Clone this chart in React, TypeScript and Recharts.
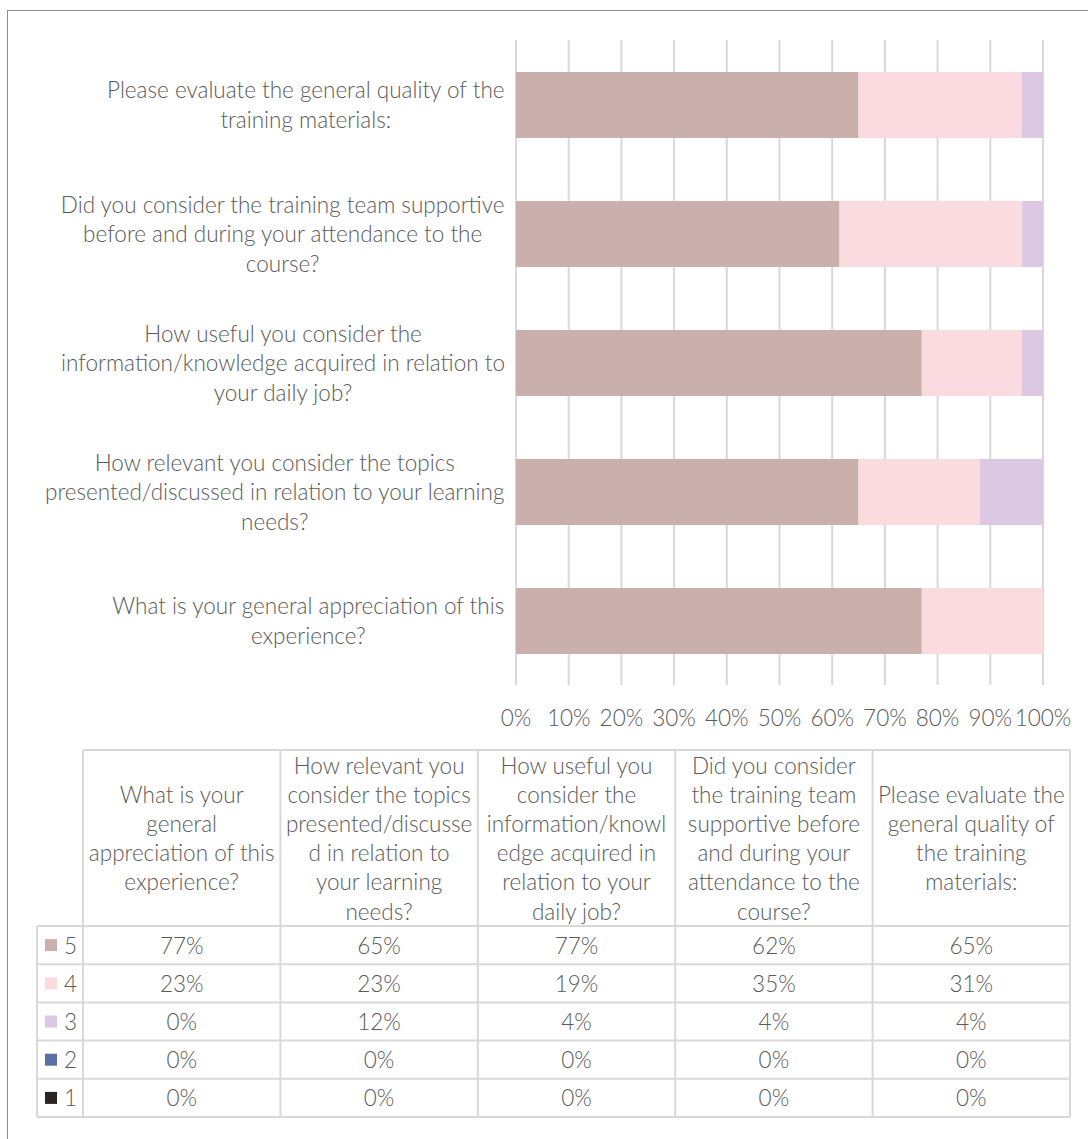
import React from 'react';
import { BarChart, Bar, XAxis, YAxis, CartesianGrid } from 'recharts';

// ---------- data ----------
const categories = [
  'What is your general appreciation of this experience?',
  'How relevant you consider the topics presented/discussed in relation to your learning needs?',
  'How useful you consider the information/knowledge acquired in relation to your daily job?',
  'Did you consider the training team supportive before and during your attendance to the course?',
  'Please evaluate the general quality of the training materials:',
];

const axisLabelLines = [
  ['What is your general appreciation of this', 'experience?'],
  ['How relevant you consider the topics', 'presented/discussed in relation to your learning', 'needs?'],
  ['How useful you consider the', 'information/knowledge acquired in relation to', 'your daily job?'],
  ['Did you consider the training team supportive', 'before and during your attendance to the', 'course?'],
  ['Please evaluate the general quality of the', 'training materials:'],
];

const tableHeaderLines = [
  ['What is your', 'general', 'appreciation of this', 'experience?'],
  ['How relevant you', 'consider the topics', 'presented/discusse', 'd in relation to', 'your learning', 'needs?'],
  ['How useful you', 'consider the', 'information/knowl', 'edge acquired in', 'relation to your', 'daily job?'],
  ['Did you consider', 'the training team', 'supportive before', 'and during your', 'attendance to the', 'course?'],
  ['Please evaluate the', 'general quality of', 'the training', 'materials:'],
];

const seriesNames = ['5', '4', '3', '2', '1'];
const score5 = [77, 65, 77, 62, 65];
const score4 = [23, 23, 19, 35, 31];
const score3 = [0, 12, 4, 4, 4];
const score2 = [0, 0, 0, 0, 0];
const score1 = [0, 0, 0, 0, 0];
const seriesValues = [score5, score4, score3, score2, score1];
const seriesColors = ['#CAB0AC', '#F9DBE0', '#DCC8E2', '#5A6EA8', '#2B2420'];

const xTicks = [0, 0.1, 0.2, 0.3, 0.4, 0.5, 0.6, 0.7, 0.8, 0.9, 1];

const data = categories.map((c, i) => {
  const row: any = { cat: c };
  seriesNames.forEach((s, k) => {
    row['s' + s] = seriesValues[k][i];
  });
  return row;
});

// ---------- styles ----------
const FONT = 'Lato, "Open Sans", sans-serif';
const FS = 22.5;
const FW = 300;
const TXT = '#5a5a5a';
const GRID = '#d9d9d9';

let ctx: CanvasRenderingContext2D | null = null;
function measure(t: string) {
  if (!ctx) {
    ctx = document.createElement('canvas').getContext('2d');
  }
  if (!ctx) return t.length * FS * 0.45;
  ctx.font = `${FW} ${FS}px Lato`;
  return ctx.measureText(t).width;
}

const textProps = { fill: TXT, fontSize: FS, fontFamily: FONT, fontWeight: FW };

const CatTick = (props: any) => {
  const { x, y, payload } = props;
  const idx = categories.indexOf(payload.value);
  const lines = axisLabelLines[idx] || [payload.value];
  const w = Math.max(...lines.map(measure));
  const cx = x - 11 - w / 2;
  const n = lines.length;
  return (
    <g>
      {lines.map((l, i) => (
        <text
          key={i}
          x={cx}
          y={y + (i - (n - 1) / 2) * 29.5}
          textAnchor="middle"
          dominantBaseline="central"
          {...textProps}
        >
          {l}
        </text>
      ))}
    </g>
  );
};

const PctTick = (props: any) => {
  const { x, y, payload } = props;
  return (
    <text x={x} y={y + 32} textAnchor="middle" dominantBaseline="central" {...textProps}>
      {Math.round(payload.value * 100) + '%'}
    </text>
  );
};

// ---------- table geometry ----------
const TL = 37; // legend col left
const TC = 83; // first data col left
const TR = 1070;
const TTOP = 750;
const THEAD = 926;
const TBOT = 1117;
const colW = (TR - TC) / 5;
const rowH = (TBOT - THEAD) / 5;

const DataTable = () => {
  const lines: any[] = [];
  lines.push(<line key="ht" x1={TC} x2={TR} y1={TTOP} y2={TTOP} />);
  for (let c = 0; c <= 5; c++) {
    const x = TC + c * colW;
    lines.push(<line key={'v' + c} x1={x} x2={x} y1={TTOP} y2={TBOT} />);
  }
  lines.push(<line key="vl" x1={TL} x2={TL} y1={THEAD} y2={TBOT} />);
  for (let r = 0; r <= 5; r++) {
    const y = THEAD + r * rowH;
    lines.push(<line key={'h' + r} x1={TL} x2={TR} y1={y} y2={y} />);
  }
  const headCy = (TTOP + THEAD) / 2;
  return (
    <svg width={1088} height={1139} style={{ position: 'absolute', left: 0, top: 0 }}>
      <g stroke={GRID} strokeWidth={2}>{lines}</g>
      {tableHeaderLines.map((hl, c) => (
        <g key={'hd' + c}>
          {hl.map((l, i) => (
            <text
              key={i}
              x={TC + (c + 0.5) * colW}
              y={headCy + (i - (hl.length - 1) / 2) * 29.2}
              textAnchor="middle"
              dominantBaseline="central"
              {...textProps}
            >
              {l}
            </text>
          ))}
        </g>
      ))}
      {seriesNames.map((s, r) => {
        const cy = THEAD + (r + 0.5) * rowH;
        return (
          <g key={'r' + r}>
            <rect x={45} y={cy - 6} width={12} height={12} fill={seriesColors[r]} />
            <text x={64} y={cy} dominantBaseline="central" {...textProps}>
              {s}
            </text>
            {seriesValues[r].map((v, c) => (
              <text
                key={c}
                x={TC + (c + 0.5) * colW}
                y={cy}
                textAnchor="middle"
                dominantBaseline="central"
                {...textProps}
              >
                {v + '%'}
              </text>
            ))}
          </g>
        );
      })}
    </svg>
  );
};

export default function App() {
  return (
    <div style={{ position: 'absolute', left: 0, top: 0, width: 1088, height: 1139, background: '#fff', overflow: 'hidden' }}>
      <div
        style={{
          position: 'absolute',
          left: 7,
          top: 10,
          width: 1100,
          height: 1200,
          borderLeft: '1.5px solid #8c8c8c',
          borderTop: '1.5px solid #8c8c8c',
        }}
      />
      <div style={{ position: 'absolute', left: 0, top: 0 }}>
        <BarChart
          width={1088}
          height={760}
          data={data}
          layout="vertical"
          stackOffset="expand"
          margin={{ top: 40, right: 45, left: 0, bottom: 0 }}
          barSize={66}
        >
          <CartesianGrid horizontal={false} stroke={GRID} strokeWidth={2} />
          <XAxis
            type="number"
            domain={[0, 1]}
            ticks={xTicks}
            axisLine={false}
            tickLine={false}
            tickSize={0}
            tickMargin={0}
            height={75}
            tick={<PctTick />}
            interval={0}
          />
          <YAxis
            type="category"
            dataKey="cat"
            reversed
            width={516}
            axisLine={false}
            tickLine={false}
            tickSize={0}
            tickMargin={0}
            tick={<CatTick />}
            interval={0}
          />
          {seriesNames.map((s, k) => (
            <Bar key={s} dataKey={'s' + s} stackId="a" fill={seriesColors[k]} isAnimationActive={false} />
          ))}
        </BarChart>
      </div>
      <DataTable />
    </div>
  );
}
